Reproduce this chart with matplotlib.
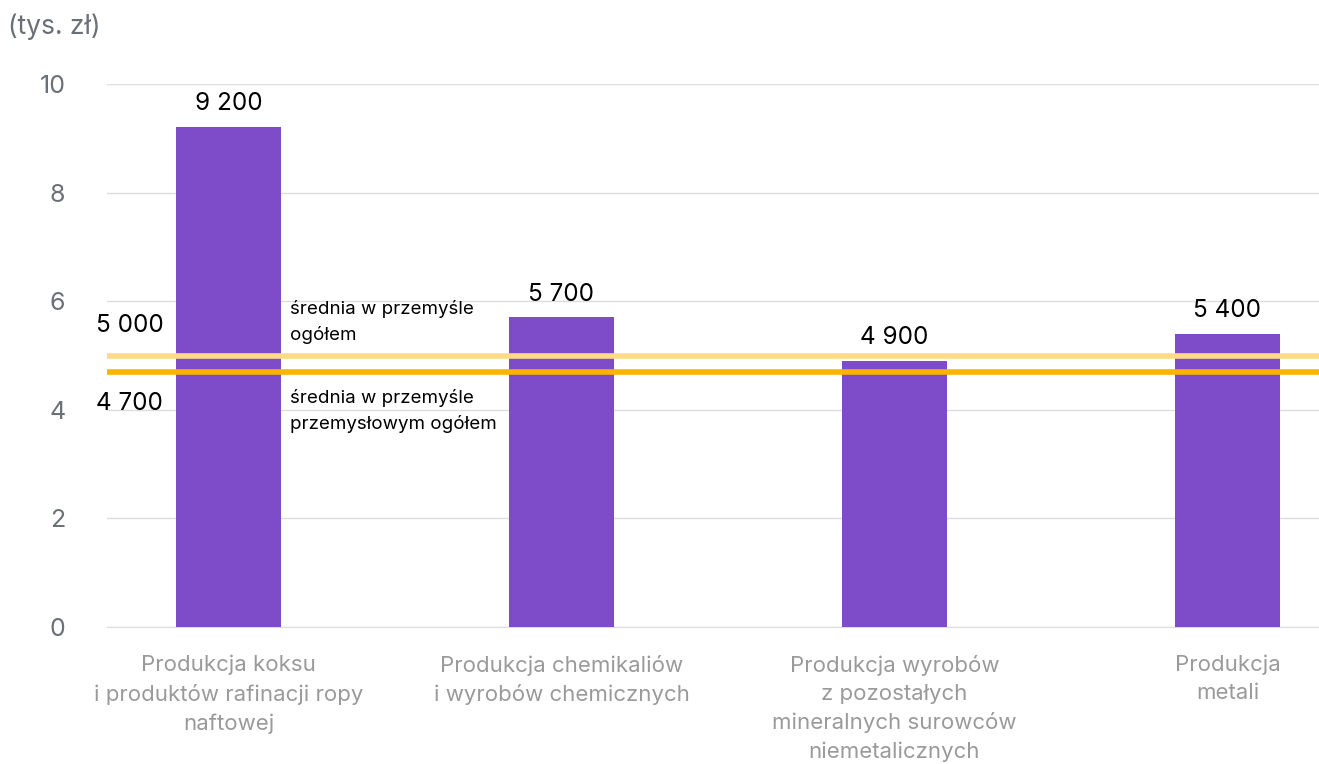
import numpy as np
import matplotlib
matplotlib.use('Agg')
import matplotlib.pyplot as plt

plt.rcParams['font.family'] = ['Inter', 'DejaVu Sans']

# dane
kategorie = ['Produkcja koksu\ni produktów rafinacji ropy\nnaftowej',
             'Produkcja chemikaliów\ni wyrobów chemicznych',
             'Produkcja wyrobów\nz pozostałych\nmineralnych surowców\nniemetalicznych',
             'Produkcja\nmetali']
wartosci = [9.2, 5.7, 4.9, 5.4]
etykiety = ['9 200', '5 700', '4 900', '5 400']
srednia_ogolem = 5.0
srednia_przem = 4.7
yticks = [0, 2, 4, 6, 8, 10]

fig = plt.figure(figsize=(13.19, 7.64), dpi=100)
ax = fig.add_axes([107/1319, 1 - 627/764, 1 - 107/1319, (627 - 84)/764])

x = np.arange(len(kategorie))
ax.bar(x, wartosci, width=0.315, color='#7E4BC9', zorder=3)
for xi, v, t in zip(x, wartosci, etykiety):
    ax.text(xi, v + 0.22, t, ha='center', va='bottom', fontsize=17.5, color='black')

ax.axhline(srednia_ogolem, color='#FFDB85', lw=4, zorder=4)
ax.axhline(srednia_przem, color='#FBB400', lw=4, zorder=4)

ax.set_xlim(-0.365, 3.275)
ax.set_ylim(0, 10)
ax.set_yticks(yticks)
ax.set_yticklabels([str(t) for t in yticks], fontsize=18, color='#6B6F76')
ax.tick_params(axis='y', length=0, pad=30)
ax.set_xticks([])
ax.grid(axis='y', color='#DDDDDD', lw=1, zorder=0)
for s in ['top', 'right', 'left']:
    ax.spines[s].set_visible(False)
ax.spines['bottom'].set_color('#DDDDDD')

# etykiety osi x
for xi, k in zip(x, kategorie):
    ax.annotate(k, xy=(xi, 0), xytext=(0, -20), textcoords='offset points',
                ha='center', va='top', fontsize=16, color='#9A9A9A',
                linespacing=1.5)

# srednie
fig.text(96/1319, 1 - 325/764, '5 000', fontsize=17.5, va='center', ha='left')
fig.text(96/1319, 1 - 403/764, '4 700', fontsize=17.5, va='center', ha='left')
fig.text(290/1319, 1 - 322/764, 'średnia w przemyśle\nogółem', fontsize=13.5,
         va='center', ha='left', linespacing=1.55)
fig.text(290/1319, 1 - 411/764, 'średnia w przemyśle\nprzemysłowym ogółem', fontsize=13.5,
         va='center', ha='left', linespacing=1.55)

fig.text(8/1319, 1 - 27/764, '(tys. zł)', fontsize=19, color='#6B6F76', va='center', ha='left')

fig.savefig('out.png', dpi=100)
